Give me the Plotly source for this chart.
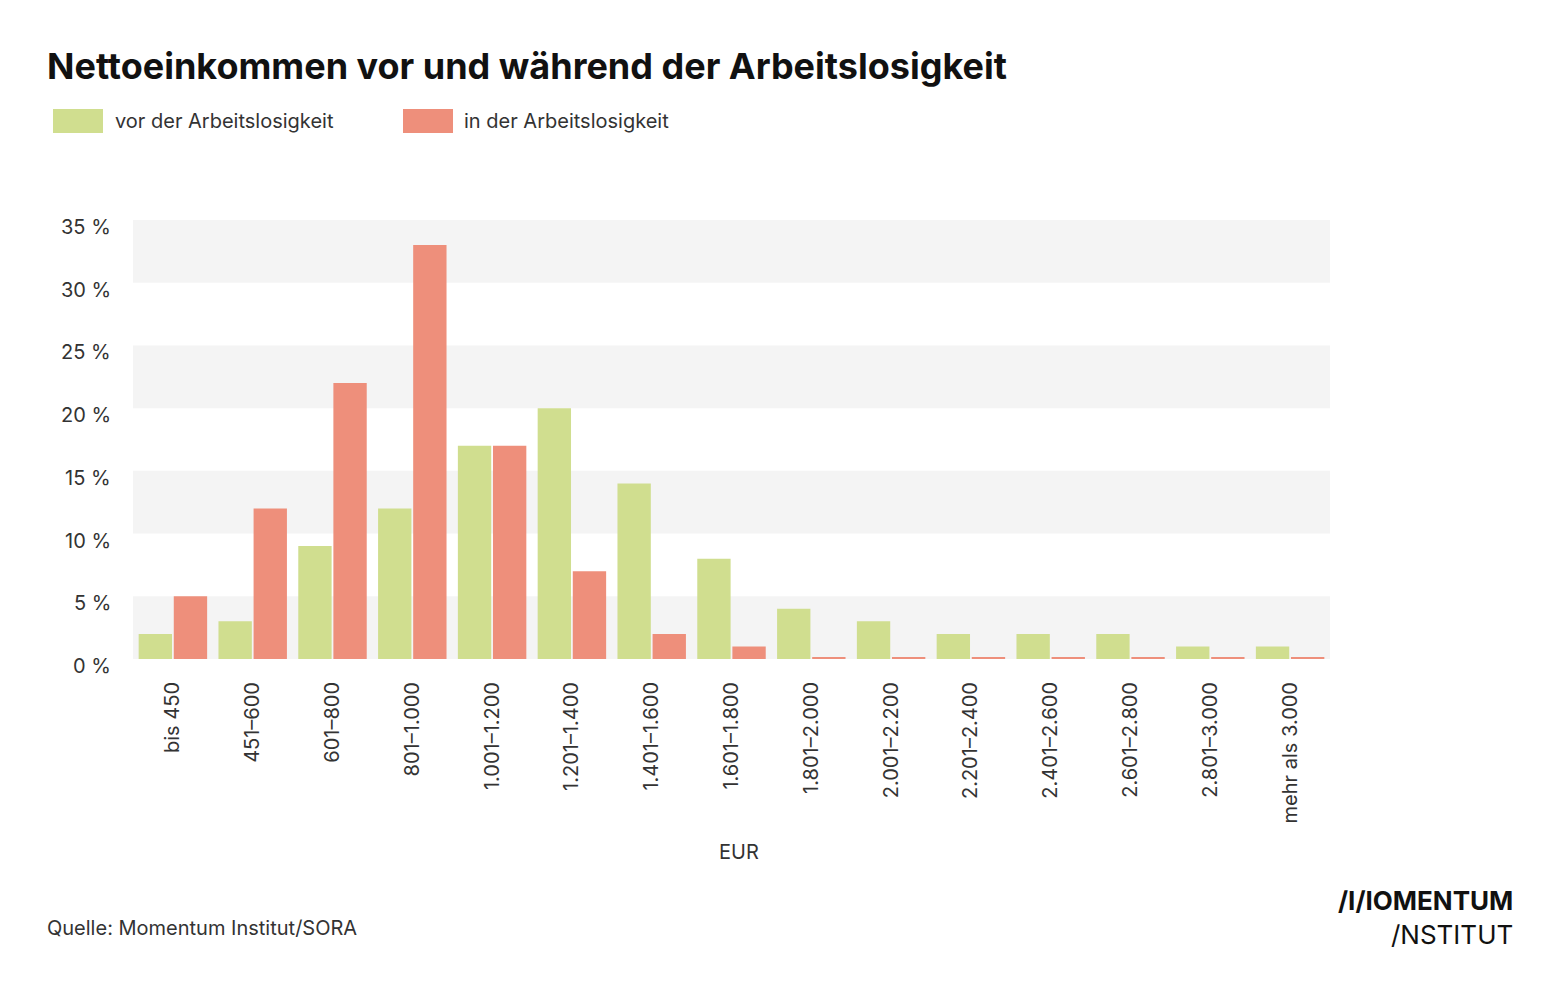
import plotly.graph_objects as go

categories = ["bis 450", "451–600", "601–800", "801–1.000", "1.001–1.200", "1.201–1.400",
              "1.401–1.600", "1.601–1.800", "1.801–2.000", "2.001–2.200", "2.201–2.400",
              "2.401–2.600", "2.601–2.800", "2.801–3.000", "mehr als 3.000"]
vor_values = [2, 3, 9, 12, 17, 20, 14, 8, 4, 3, 2, 2, 2, 1, 1]
in_values = [5, 12, 22, 33, 17, 7, 2, 1, 0.1, 0.1, 0.1, 0.1, 0.1, 0.1, 0.1]
series_names = ["vor der Arbeitslosigkeit", "in der Arbeitslosigkeit"]
y_tickvals = [0, 5, 10, 15, 20, 25, 30, 35]
y_ticktext = [f"{v} %" for v in y_tickvals]

GREEN = "#d0de8f"
RED = "#ee8f7b"
BAND = "#f4f4f4"
FONT = "Inter"
TXT = "#333333"

OFF = 8  # page body margin
W, H = 1560 - OFF, 988 - OFF
# target pixel positions in the screenshot
L, R, T, B = 133, 1330, 220, 659


def px(x):
    return (x - L) / (R - L)


def py(y):
    return (B - y) / (B - T)


fig = go.Figure()
fig.add_bar(x=categories, y=vor_values, name=series_names[0], marker_color=GREEN,
            marker_line_width=0)
fig.add_bar(x=categories, y=in_values, name=series_names[1], marker_color=RED,
            marker_line_width=0)

shapes = []
for lo in [0, 10, 20, 30]:
    shapes.append(dict(type="rect", xref="paper", yref="y", x0=0, x1=1, y0=lo, y1=lo + 5,
                       fillcolor=BAND, line_width=0, layer="below"))
# custom legend swatches
shapes.append(dict(type="rect", xref="paper", yref="paper", x0=px(53), x1=px(103),
                   y0=py(133), y1=py(109), fillcolor=GREEN, line_width=0))
shapes.append(dict(type="rect", xref="paper", yref="paper", x0=px(403), x1=px(453),
                   y0=py(133), y1=py(109), fillcolor=RED, line_width=0))

annotations = [
    dict(text="<b>Nettoeinkommen vor und während der Arbeitslosigkeit</b>", xref="paper",
         yref="paper", x=px(45), y=py(66), xanchor="left", yanchor="middle", showarrow=False,
         font=dict(family=FONT, size=36, color="#111111")),
    dict(text=series_names[0], xref="paper", yref="paper", x=px(113), y=py(121),
         xanchor="left", yanchor="middle", showarrow=False,
         font=dict(family=FONT, size=20, color=TXT)),
    dict(text=series_names[1], xref="paper", yref="paper", x=px(462), y=py(121),
         xanchor="left", yanchor="middle", showarrow=False,
         font=dict(family=FONT, size=20, color=TXT)),
    dict(text="EUR", xref="paper", yref="paper", x=px(739), y=py(852),
         xanchor="center", yanchor="middle", showarrow=False,
         font=dict(family=FONT, size=20, color=TXT)),
    dict(text="Quelle: Momentum Institut/SORA", xref="paper", yref="paper", x=px(45),
         y=py(928), xanchor="left", yanchor="middle", showarrow=False,
         font=dict(family=FONT, size=20, color=TXT)),
    dict(text="<b>/I/IOMENTUM</b><br>/NSTITUT", xref="paper", yref="paper", x=px(1515),
         y=py(917), xanchor="right", yanchor="middle", align="right", showarrow=False,
         font=dict(family=FONT, size=26, color="#111111")),
]
# y tick labels, drawn slightly below their gridline as in the reference
for v, t in zip(y_tickvals, y_ticktext):
    annotations.append(dict(text=t, xref="paper", yref="y", x=px(113), y=v, yshift=-7,
                            xanchor="right", yanchor="middle", showarrow=False,
                            font=dict(family=FONT, size=20, color=TXT)))

fig.update_layout(
    width=W, height=H,
    margin=dict(l=L - OFF, r=W - (R - OFF), t=T - OFF, b=H - (B - OFF), pad=0),
    paper_bgcolor="white", plot_bgcolor="white",
    barmode="group", bargap=0.12, bargroupgap=0.05,
    showlegend=False,
    shapes=shapes, annotations=annotations,
    font=dict(family=FONT, color=TXT),
    xaxis=dict(tickangle=-90, tickfont=dict(family=FONT, size=20, color=TXT),
               showgrid=False, zeroline=False, showline=False, ticks="",
               ticklabelstandoff=18),
    yaxis=dict(range=[0, 35], tickvals=y_tickvals, showticklabels=False,
               showgrid=False, zeroline=False, showline=False, ticks=""),
)

fig.write_html("out.html")
